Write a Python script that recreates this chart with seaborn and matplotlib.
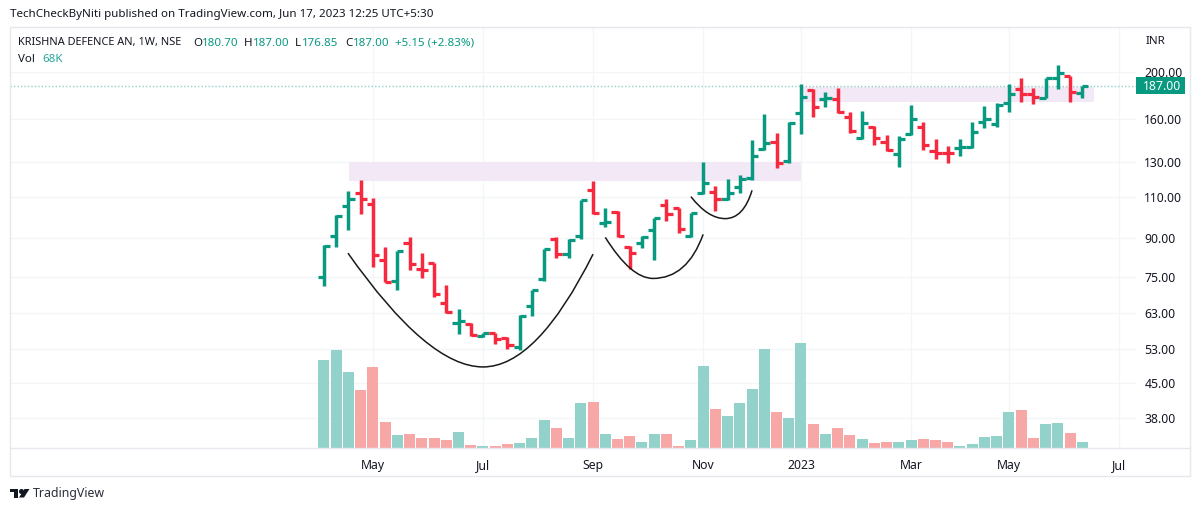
# Weekly OHLC chart with volume, drawn in the TradingView look
import numpy as np
import pandas as pd
import matplotlib.pyplot as plt
import seaborn as sns
from matplotlib.patches import PathPatch, Polygon, Rectangle
from matplotlib.path import Path

# ---- data ----
open_px = [74.8, 91.1, 105.2, 111.7, 106.1, 81.1, 73.4, 88.0, 77.7, 79.9, 66.1, 60.0, 59.6, 56.3, 57.1, 55.8,
           53.5, 65.1, 74.0, 89.7, 83.4, 91.2, 113.5, 97.0, 102.0, 86.4, 87.9, 93.7, 105.6, 104.0, 91.0, 111.7,
           112.4, 108.6, 115.2, 120.2, 138.0, 143.1, 130.4, 164.2, 183.4, 175.3, 175.3, 161.3, 145.8, 153.8,
           142.7, 134.7, 148.5, 153.3, 136.9, 135.3, 138.8, 139.5, 157.0, 156.2, 172.4, 184.7, 180.0, 176.8,
           194.6, 196.2, 180.70]
high_px = [87.1, 100.6, 112.9, 119.0, 109.3, 86.4, 84.8, 90.5, 83.9, 80.0, 72.1, 64.2, 59.9, 57.3, 57.3, 56.2,
           62.3, 70.4, 85.7, 90.5, 89.6, 108.5, 118.6, 104.4, 102.6, 87.0, 91.0, 99.4, 108.6, 104.4, 101.8, 129.6,
           115.6, 120.0, 122.0, 144.3, 163.2, 149.4, 157.1, 188.5, 184.0, 181.4, 184.9, 164.8, 166.0, 154.3,
           147.5, 147.2, 170.4, 157.3, 145.1, 140.2, 144.8, 157.7, 170.1, 172.3, 188.8, 194.6, 185.0, 194.6,
           206.9, 196.5, 187.00]
low_px = [71.6, 86.4, 93.7, 101.1, 78.5, 73.0, 70.2, 77.3, 74.4, 67.9, 62.9, 56.9, 56.3, 56.0, 54.2, 53.0,
          52.8, 62.0, 73.5, 82.0, 81.9, 89.6, 101.1, 94.9, 90.5, 77.9, 86.0, 81.1, 97.8, 92.2, 90.5, 111.2,
          102.9, 108.1, 112.2, 119.0, 137.5, 126.5, 129.4, 148.5, 161.3, 169.3, 164.0, 149.4, 144.9, 140.9,
          136.7, 126.9, 147.5, 137.3, 131.7, 129.2, 133.4, 138.8, 153.2, 153.8, 165.0, 173.4, 171.8, 176.2,
          184.7, 173.4, 176.85]
close_px = [86.7, 100.3, 109.0, 108.6, 83.1, 73.1, 84.7, 79.8, 77.3, 68.8, 63.2, 60.6, 56.6, 57.1, 55.7, 54.0,
            62.1, 70.2, 85.4, 83.5, 89.2, 108.1, 101.8, 97.4, 91.0, 84.0, 90.7, 99.1, 101.1, 94.1, 101.5, 117.7,
            109.0, 112.2, 120.0, 133.8, 142.4, 129.4, 156.6, 177.1, 168.8, 176.2, 164.8, 150.4, 156.3, 145.8,
            137.5, 144.8, 159.8, 140.6, 135.7, 135.3, 139.5, 149.8, 159.8, 170.9, 179.7, 180.0, 177.1, 194.0,
            198.8, 181.85, 187.00]
volume_k = [901, 1003, 779, 595, 833, 265, 136, 146, 102, 102, 85, 163, 34, 20, 20, 41,
            54, 109, 286, 211, 109, 459, 476, 146, 95, 122, 61, 146, 146, 24, 82, 840,
            401, 326, 459, 605, 1017, 374, 306, 1071, 252, 143, 211, 136, 95, 54, 61, 68,
            82, 95, 82, 61, 24, 41, 116, 129, 374, 388, 109, 245, 258, 156, 68]
price_ticks = [200, 160, 130, 110, 90, 75, 63, 53, 45, 38]
month_pos = [4, 13, 22, 31, 39, 48, 56, 65]
month_labels = ['May', 'Jul', 'Sep', 'Nov', '2023', 'Mar', 'May', 'Jul']

# resistance zones: first bar, last bar, low price, high price
zone_bars = [(2.07, 39.0), (39.0, 62.96)]
zone_prices = [(118.5, 130.1), (173.0, 185.7)]
# cup curves: (bar, price) start, control, bottom, control, end
cups = [
    [(1.96, 83.9), (8.5, 48.6), (13.0, 48.6), (17.4, 48.6), (22.0, 83.5)],
    [(23.0, 90.5), (25.1, 74.3), (26.9, 74.3), (29.7, 74.3), (31.0, 91.8)],
    [(30.0, 110.0), (31.4, 99.0), (32.8, 99.0), (34.3, 99.0), (35.0, 113.4)],
]

# ---- colours ----
GREEN = '#089981'
RED = '#f7293f'
VOL_GREEN = '#92d2ca'
VOL_RED = '#f8a7a7'
ZONE = '#f3e8f6'
GRID = '#f4f5f8'
FRAME = '#e6e8ef'
TEXT = '#131722'

sns.set_theme(style='white')
plt.rcParams['font.family'] = ['Noto Sans', 'DejaVu Sans']

W, H = 1200, 512
fig = plt.figure(figsize=(W / 100, H / 100), dpi=100)
fig.patch.set_facecolor('white')


def fx(x):
    return x / W


def fy(y):
    return 1 - y / H


# plot area in pixels: x 10..1136, y 27..448.3
ax = fig.add_axes([fx(10), fy(448.3), fx(1126), (448.3 - 27) / H])
ax.set_yscale('log')
ax.set_facecolor('white')

df = pd.DataFrame({'bar': np.arange(len(open_px)), 'open': open_px, 'high': high_px,
                   'low': low_px, 'close': close_px, 'volume': volume_k})
df['up'] = df['close'] >= df['open']
# this week closed on its open but is drawn red
df.loc[51, 'up'] = False

# ---- grid and zones under everything ----
ax.set_yticks(price_ticks)
ax.set_yticklabels([f'{p:.2f}' for p in price_ticks])
ax.minorticks_off()
ax.set_xticks(month_pos)
ax.set_xticklabels(month_labels)
ax.grid(True, color=GRID, linewidth=1)
ax.set_axisbelow(True)

for (b0, b1), (p0, p1) in zip(zone_bars, zone_prices):
    ax.fill_between([b0, b1], p0, p1, color=ZONE, linewidth=0, zorder=1)

# ---- volume on its own linear scale ----
ax_vol = ax.twinx()
sns.barplot(data=df, x='bar', y='volume', hue='up', palette={True: VOL_GREEN, False: VOL_RED},
            native_scale=True, dodge=False, width=0.9, saturation=1, errorbar=None,
            legend=False, linewidth=0, ax=ax_vol)
ax_vol.set_ylim(0, 4297)
ax_vol.set_axis_off()

# ---- OHLC bars ----
for is_up, color in [(True, GREEN), (False, RED)]:
    part = df[df['up'] == is_up]
    ax.vlines(part['bar'], part['low'], part['high'], color=color, linewidth=2.5, zorder=3)
    ax.hlines(part['open'], part['bar'] - 0.5, part['bar'], color=color, linewidth=2.3, zorder=3)
    ax.hlines(part['close'], part['bar'], part['bar'] + 0.5, color=color, linewidth=2.3, zorder=3)

# cup curves
for cup in cups:
    codes = [Path.MOVETO, Path.CURVE3, Path.CURVE3, Path.CURVE3, Path.CURVE3]
    ax.add_patch(PathPatch(Path(cup, codes), fill=False, edgecolor='#1a1a1a', linewidth=1.1, zorder=4))

# last price line
ax.axhline(close_px[-1], color=GREEN, alpha=0.45, linewidth=1, linestyle=(0, (1, 1.5)), zorder=2)

ax.set_xlim(-25.67, 66.39)
ax.set_ylim(32.9, 248.2)
ax.yaxis.tick_right()
ax.tick_params(axis='y', which='major', length=0, pad=6, labelsize=8.8, labelcolor=TEXT)
ax.tick_params(axis='x', which='major', length=0, pad=7.5, labelsize=8.8, labelcolor=TEXT)
for lbl in ax.get_xticklabels():
    if lbl.get_text() == '2023':
        lbl.set_fontweight('semibold')
for spine in ax.spines.values():
    spine.set_visible(False)
for spine in ax_vol.spines.values():
    spine.set_visible(False)

# ---- frame ----
fig.add_artist(Rectangle((fx(10), fy(476)), fx(1180), (476 - 27) / H, fill=False, edgecolor=FRAME,
                         linewidth=1, transform=fig.transFigure))
fig.add_artist(plt.Line2D([fx(10), fx(1190)], [fy(448.3), fy(448.3)], color=FRAME, linewidth=1))

# ---- texts ----
fig.text(fx(10), fy(15), 'TechCheckByNiti published on TradingView.com, Jun 17, 2023 12:25 UTC+5:30',
         fontsize=8.35, color=TEXT, va='center')
legend_bits = [
    (18, 'KRISHNA DEFENCE AN, 1W, NSE', TEXT), (193, 'O', TEXT), (202, '180.70', GREEN),
    (244, 'H', TEXT), (253, '187.00', GREEN), (295, 'L', TEXT), (302, '176.85', GREEN),
    (345, 'C', TEXT), (353, '187.00', GREEN), (395, '+5.15 (+2.83%)', GREEN),
]
for x, s, c in legend_bits:
    size = 7.9 if s.startswith('KRISHNA') else 8.3
    fig.text(fx(x), fy(43), s, fontsize=size, color=c, va='center')
fig.text(fx(18), fy(60), 'Vol', fontsize=8.3, color=TEXT, va='center')
fig.text(fx(42), fy(60), '68K', fontsize=8.3, color='#26a69a', va='center')
fig.text(fx(1155), fy(41), 'INR', fontsize=8.3, color=TEXT, va='center', ha='center')

# last price label
fig.add_artist(Rectangle((fx(1136), fy(94.3)), fx(49), 17 / H, facecolor=GREEN, edgecolor='none',
                         transform=fig.transFigure))
fig.text(fx(1162), fy(86), '187.00', fontsize=8.8, color='white', va='center', ha='center')

# ---- TradingView logo ----
logo = [
    Polygon([(fx(10), fy(489)), (fx(18), fy(489)), (fx(18), fy(497.5)), (fx(14), fy(497.5)),
             (fx(14), fy(492)), (fx(10), fy(492))], facecolor=TEXT, edgecolor='none', transform=fig.transFigure),
    Polygon([(fx(24.5), fy(489)), (fx(29.5), fy(489)), (fx(24), fy(497.5)), (fx(19), fy(497.5))],
            facecolor=TEXT, edgecolor='none', transform=fig.transFigure),
]
for p in logo:
    fig.add_artist(p)
fig.add_artist(plt.Line2D([fx(21.3)], [fy(490.7)], marker='o', markersize=2.6, color=TEXT, linewidth=0))
fig.text(fx(33), fy(494), 'TradingView', fontsize=8.9, color='#2a2e39', va='center')

fig.savefig('out.png', dpi=100)
